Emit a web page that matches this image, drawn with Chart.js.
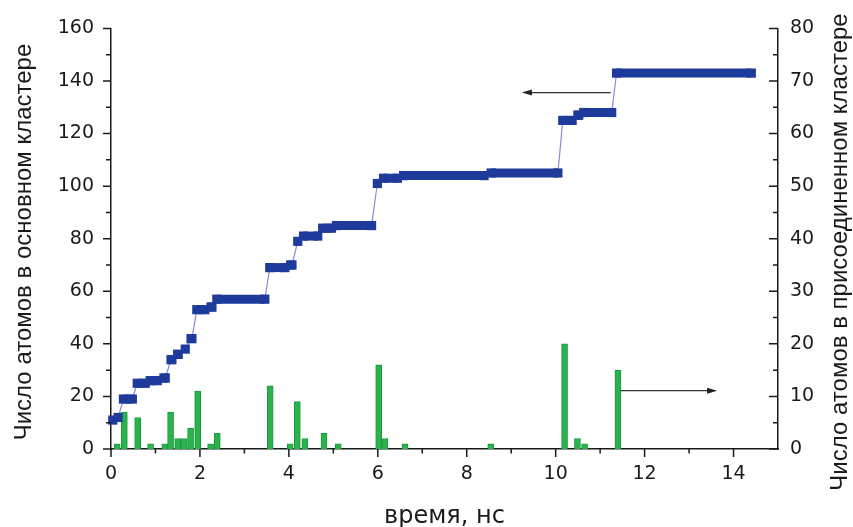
<!DOCTYPE html>
<html>
<head>
<meta charset="utf-8">
<script src="https://cdn.jsdelivr.net/npm/chart.js@4.4.1/dist/chart.umd.min.js"></script>
<style>
    html, body { margin: 0; padding: 0; background: #fff; }
    #wrap { width: 853px; height: 527px; }
</style>
</head>
<body>
<div id="wrap"><canvas id="chart"></canvas></div>
<script>
// Основной кластер: ступени (начало, конец по времени, число атомов)
const stepStart = [0.04, 0.16, 0.28, 0.59, 0.88, 1.19, 1.35, 1.50, 1.67, 1.80, 1.93, 2.25, 2.38, 3.57, 4.04, 4.20, 4.33, 4.76, 5.07, 5.99, 6.13, 6.58, 8.55, 10.16, 10.50, 10.63, 11.37];
const stepEnd   = [0.04, 0.16, 0.48, 0.77, 1.04, 1.22, 1.37, 1.51, 1.67, 1.82, 2.11, 2.27, 3.46, 3.91, 4.07, 4.20, 4.65, 4.96, 5.86, 5.99, 6.44, 8.39, 10.05, 10.37, 10.52, 11.26, 14.40];
const stepAtoms = [11, 12, 19, 25, 26, 27, 34, 36, 38, 42, 53, 54, 57, 69, 70, 79, 81, 84, 85, 101, 103, 104, 105, 125, 127, 128, 143];

// Присоединенные кластеры: время и число атомов
const joinTime  = [0.14, 0.30, 0.60, 0.89, 1.21, 1.34, 1.50, 1.65, 1.79, 1.95, 2.24, 2.39, 3.58, 4.03, 4.19, 4.36, 4.79, 5.11, 6.02, 6.16, 6.61, 8.54, 10.20, 10.49, 10.65, 11.40];
const joinAtoms = [1, 7, 6, 1, 1, 7, 2, 2, 4, 11, 1, 3, 12, 1, 9, 2, 3, 1, 16, 2, 1, 1, 20, 2, 1, 15];

// Подписи осей
const xTicks = [0, 2, 4, 6, 8, 10, 12, 14];
const leftTicks = [0, 20, 40, 60, 80, 100, 120, 140, 160];
const rightTicks = [0, 10, 20, 30, 40, 50, 60, 70, 80];

const xTitle = 'время, нс';
const leftTitle = 'Число атомов в основном кластере';
const rightTitle = 'Число атомов в присоединенном кластере';

const BLUE = '#1e3a9a';
const LINK = '#8a8ad6';
const GREEN = '#2bb24c';
const INK = '#1a1a1a';
const tickFont = { family: 'DejaVu Sans', size: 19 };

// Точки ступенчатой кривой
const mainPoints = [];
stepAtoms.forEach((n, i) => {
    mainPoints.push({ x: stepStart[i], y: n });
    if (stepEnd[i] !== stepStart[i]) mainPoints.push({ x: stepEnd[i], y: n });
});

const joinPoints = joinTime.map((t, i) => ({ x: t, y: joinAtoms[i] }));

function drawArrow(ctx, x0, y0, x1, y1) {
    const dir = Math.sign(x1 - x0);
    ctx.beginPath();
    ctx.moveTo(x0, y0);
    ctx.lineTo(x1 - dir * 8, y1);
    ctx.stroke();
    ctx.beginPath();
    ctx.moveTo(x1, y1);
    ctx.lineTo(x1 - dir * 10, y1 - 3);
    ctx.lineTo(x1 - dir * 10, y1 + 3);
    ctx.closePath();
    ctx.fill();
}

// Засечки, стрелки и вертикальные подписи
const axisDecor = {
    id: 'axisDecor',
    afterDraw(chart) {
        const { ctx, chartArea: a } = chart;
        const { x, y, y2 } = chart.scales;
        ctx.save();
        ctx.strokeStyle = INK;
        ctx.lineWidth = 1.5;
        ctx.beginPath();
        for (let v = 0; v <= 14; v++) {
            const px = x.getPixelForValue(v);
            ctx.moveTo(px, a.bottom);
            ctx.lineTo(px, a.bottom + (v % 2 === 0 ? 8 : 4.5));
        }
        for (let v = 0; v <= 160; v += 10) {
            const py = y.getPixelForValue(v);
            ctx.moveTo(a.left, py);
            ctx.lineTo(a.left - (v % 20 === 0 ? 8 : 5), py);
        }
        for (let v = 0; v <= 80; v += 5) {
            const py = y2.getPixelForValue(v);
            ctx.moveTo(a.right, py);
            ctx.lineTo(a.right - (v % 10 === 0 ? 9 : 5), py);
        }
        ctx.stroke();

        // стрелки к осям
        ctx.strokeStyle = '#333';
        ctx.fillStyle = '#222';
        ctx.lineWidth = 1.3;
        const ay = y.getPixelForValue(135.6);
        drawArrow(ctx, x.getPixelForValue(11.24), ay, x.getPixelForValue(9.24), ay);
        const by = y2.getPixelForValue(11.1);
        drawArrow(ctx, x.getPixelForValue(11.46), by, x.getPixelForValue(13.63), by);

        // подписи вертикальных осей
        ctx.fillStyle = INK;
        ctx.font = '24px "Liberation Sans"';
        ctx.textAlign = 'center';
        ctx.textBaseline = 'middle';
        ctx.save();
        ctx.translate(24, 242);
        ctx.rotate(-Math.PI / 2);
        ctx.fillText(leftTitle, 0, 0);
        ctx.restore();
        ctx.save();
        ctx.translate(840, 252);
        ctx.rotate(-Math.PI / 2);
        ctx.fillText(rightTitle, 0, 0);
        ctx.restore();
        ctx.restore();
    }
};

const sameLevel = c => c.p0.parsed.y === c.p1.parsed.y;

new Chart(document.getElementById('chart'), {
    type: 'bar',
    data: {
        datasets: [
            {
                type: 'line',
                data: mainPoints,
                yAxisID: 'y',
                borderColor: BLUE,
                borderWidth: 1.2,
                borderCapStyle: 'butt',
                tension: 0,
                pointStyle: 'rect',
                pointRadius: 6.5,
                pointBorderWidth: 0,
                pointBackgroundColor: BLUE,
                clip: false,
                order: 1,
                segment: {
                    borderWidth: c => sameLevel(c) ? 9 : 1.2,
                    borderColor: c => sameLevel(c) ? BLUE : LINK
                }
            },
            {
                type: 'bar',
                data: joinPoints,
                yAxisID: 'y2',
                backgroundColor: GREEN,
                borderColor: '#1a9a3c',
                borderWidth: 1,
                barThickness: 6,
                order: 2
            }
        ]
    },
    options: {
        responsive: true,
        maintainAspectRatio: false,
        animation: false,
        events: [],
        layout: { padding: { top: 25, left: 0, right: 0, bottom: 0 } },
        plugins: {
            legend: { display: false },
            tooltip: { enabled: false }
        },
        scales: {
            x: {
                type: 'linear',
                min: 0,
                max: 15,
                offset: false,
                afterBuildTicks: s => { s.ticks = xTicks.map(v => ({ value: v })); },
                afterFit: s => { s.height = 78; },
                grid: { display: false, drawTicks: false, offset: false },
                border: { display: true, color: INK, width: 1.5 },
                ticks: { font: tickFont, color: INK, padding: 14, maxRotation: 0, autoSkip: false },
                title: {
                    display: true,
                    text: xTitle,
                    color: INK,
                    font: { family: 'DejaVu Sans', size: 24, lineHeight: 1 },
                    padding: { top: 0, bottom: -2 }
                }
            },
            y: {
                type: 'linear',
                position: 'left',
                min: 0,
                max: 160,
                afterBuildTicks: s => { s.ticks = leftTicks.map(v => ({ value: v })); },
                afterFit: s => { s.width = 111; },
                grid: { display: false, drawTicks: false },
                border: { display: true, color: INK, width: 1.5 },
                ticks: { font: tickFont, color: INK, padding: 17 }
            },
            y2: {
                type: 'linear',
                position: 'right',
                min: 0,
                max: 80,
                afterBuildTicks: s => { s.ticks = rightTicks.map(v => ({ value: v })); },
                afterFit: s => { s.width = 75; },
                grid: { display: false, drawTicks: false },
                border: { display: true, color: INK, width: 1.5 },
                ticks: { font: tickFont, color: INK, padding: 12 }
            }
        }
    },
    plugins: [axisDecor]
});
</script>
</body>
</html>
